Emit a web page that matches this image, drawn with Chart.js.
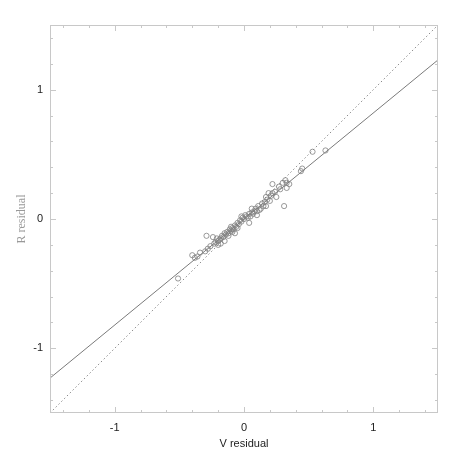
<!DOCTYPE html>
<html>
<head>
<meta charset="utf-8">
<script src="https://cdn.jsdelivr.net/npm/chart.js@4/dist/chart.umd.min.js"></script>
<style>
  html, body { margin: 0; padding: 0; background: #fff; }
  #wrap { width: 463px; height: 463px; }
</style>
</head>
<body>
<div id="wrap"><canvas id="resid-chart" width="463" height="463"></canvas></div>
<script>
// residuals
const v_resid = [0.63, 0.53, 0.45, 0.44, 0.32, 0.30, 0.33, 0.22, 0.33, 0.28, 0.31, 0.22, 0.19, 0.20, 0.17,
    0.17, 0.21, 0.24, 0.12, 0.10, 0.08, 0.06, 0.04, 0.04, 0.14, 0.15, 0.11, 0.09, 0.02, 0.00,
    -0.01, -0.02, -0.03, -0.04, -0.05, -0.06, -0.07, -0.08, -0.09, -0.10, -0.11, -0.12, -0.13, -0.14, -0.15,
    -0.16, -0.17, -0.18, -0.19, -0.20, -0.21, -0.22, -0.23, -0.24, -0.29, -0.15, -0.07, -0.26, -0.34, -0.40,
    -0.36, -0.38, -0.51, 0.01, 0.03, 0.05, 0.07, 0.13, 0.16, 0.18, 0.25, 0.27, 0.35, -0.05, -0.09,
    -0.12, -0.18, -0.28, -0.30, 0.06, -0.02, -0.10, -0.20, 0.10];
const r_resid = [0.53, 0.52, 0.39, 0.37, 0.30, 0.28, 0.28, 0.27, 0.24, 0.23, 0.10, 0.20, 0.20, 0.14, 0.10,
    0.17, 0.18, 0.21, 0.07, 0.06, 0.06, 0.05, 0.04, -0.03, 0.12, 0.10, 0.10, 0.08, 0.02, 0.00,
    0.01, -0.02, -0.01, -0.04, -0.03, -0.06, -0.05, -0.08, -0.07, -0.09, -0.08, -0.11, -0.10, -0.12, -0.11,
    -0.14, -0.13, -0.15, -0.16, -0.17, -0.15, -0.18, -0.19, -0.14, -0.13, -0.17, -0.11, -0.21, -0.26, -0.28,
    -0.29, -0.30, -0.46, 0.03, 0.01, 0.02, 0.04, 0.08, 0.13, 0.15, 0.17, 0.25, 0.27, -0.07, -0.10,
    -0.13, -0.19, -0.23, -0.25, 0.08, 0.02, -0.06, -0.20, 0.03];

// fitted line and the one-to-one line
const fit_x = [-1.5, 1.5];
const fit_y = [-1.23, 1.23];
const unity_x = [-1.5, 1.5];
const unity_y = [-1.5, 1.5];

const axis_min = -1.5;
const axis_max = 1.5;
const minor_ticks = [-1.4, -1.2, -0.8, -0.6, -0.4, -0.2, 0.2, 0.4, 0.6, 0.8, 1.2, 1.4];
const major_ticks = [-1, 0, 1];

let points = v_resid.map((v, i) => ({x: v, y: r_resid[i]}));
let fit_line = fit_x.map((v, i) => ({x: v, y: fit_y[i]}));
let unity_line = unity_x.map((v, i) => ({x: v, y: unity_y[i]}));

const boxColor = '#c8c8c8';

// frame with inward tick marks on all four sides
const framePlugin = {
    id: 'frame',
    afterDraw(chart) {
        const ctx = chart.ctx;
        const a = chart.chartArea;
        const xs = chart.scales.x, ys = chart.scales.y;
        ctx.save();
        ctx.strokeStyle = boxColor;
        ctx.lineWidth = 1;
        ctx.strokeRect(a.left + 0.5, a.top + 0.5, a.right - a.left - 1, a.bottom - a.top - 1);
        ctx.beginPath();
        const mark = (v, len) => {
            let px = Math.round(xs.getPixelForValue(v)) + 0.5;
            ctx.moveTo(px, a.bottom); ctx.lineTo(px, a.bottom - len);
            ctx.moveTo(px, a.top); ctx.lineTo(px, a.top + len);
            let py = Math.round(ys.getPixelForValue(v)) + 0.5;
            ctx.moveTo(a.left, py); ctx.lineTo(a.left + len, py);
            ctx.moveTo(a.right, py); ctx.lineTo(a.right - len, py);
        };
        minor_ticks.forEach(v => mark(v, 3));
        major_ticks.forEach(v => mark(v, 6));
        ctx.stroke();
        ctx.restore();
    }
};

const useMajorTicks = scale => { scale.ticks = major_ticks.map(v => ({value: v})); };

let config = {
    type: 'scatter',
    data: {
        datasets: [
            {
                label: 'residuals',
                data: points,
                pointStyle: 'circle',
                pointRadius: 2.6,
                pointBorderWidth: 0.8,
                pointBorderColor: '#808080',
                pointBackgroundColor: 'rgba(0,0,0,0)',
                showLine: false
            },
            {
                label: 'fit',
                data: fit_line,
                showLine: true,
                borderColor: '#7a7a7a',
                borderWidth: 1,
                pointRadius: 0
            },
            {
                label: 'unity',
                data: unity_line,
                showLine: true,
                borderColor: '#8a8a8a',
                borderWidth: 1,
                borderDash: [1.5, 2.5],
                pointRadius: 0
            }
        ]
    },
    options: {
        responsive: false,
        animation: false,
        layout: { padding: { left: 0, top: 25, right: 25, bottom: 0 } },
        plugins: {
            legend: { display: false },
            tooltip: { enabled: false }
        },
        scales: {
            x: {
                type: 'linear',
                min: axis_min,
                max: axis_max,
                grid: { display: false, drawTicks: false },
                border: { display: false },
                afterBuildTicks: useMajorTicks,
                ticks: {
                    color: '#222',
                    font: { family: 'Liberation Sans', size: 11 },
                    padding: 8
                },
                title: {
                    display: true,
                    text: 'V residual',
                    color: '#222',
                    font: { family: 'Liberation Sans', size: 11 },
                    padding: { top: 2, bottom: 12 }
                },
                afterFit(scale) { scale.height = 50; }
            },
            y: {
                type: 'linear',
                min: axis_min,
                max: axis_max,
                grid: { display: false, drawTicks: false },
                border: { display: false },
                afterBuildTicks: useMajorTicks,
                ticks: {
                    color: '#222',
                    font: { family: 'Liberation Sans', size: 11 },
                    padding: 7
                },
                title: {
                    display: true,
                    text: 'R residual',
                    color: '#999',
                    font: { family: 'Liberation Serif', size: 12 },
                    padding: { top: 15, bottom: 2 }
                },
                afterFit(scale) { scale.width = 50; }
            }
        }
    },
    plugins: [framePlugin]
};

let resid_chart = new Chart(document.getElementById('resid-chart'), config);
</script>
</body>
</html>
